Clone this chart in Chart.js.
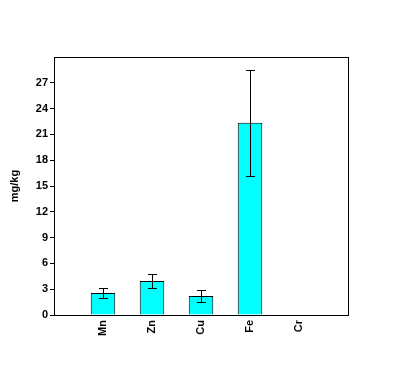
<!DOCTYPE html>
<html>
<head>
<meta charset="utf-8">
<script src="https://cdn.jsdelivr.net/npm/chart.js@4"></script>
<style>
  html, body { margin: 0; padding: 0; background: #fff; }
  #wrap { width: 403px; height: 372px; }
</style>
</head>
<body>
<div id="wrap"><canvas id="chart" width="403" height="372"></canvas></div>
<script>
const elements = ["Mn", "Zn", "Cu", "Fe", "Cr"];
const means = [2.56, 3.95, 2.21, 22.36, 0];
const errors = [0.58, 0.81, 0.75, 6.14, 0];
const yTicks = [0, 3, 6, 9, 12, 15, 18, 21, 24, 27];
const yMax = 30;

// empty slot at each end so the bars sit one category in from the frame
const labels = ["", ...elements, ""];
const values = [null, ...means, null];
const errs = [null, ...errors, null];

const FONT = "'Liberation Sans Narrow', 'Liberation Sans', Arial, sans-serif";

const framePlugin = {
  id: "frame",
  afterDatasetsDraw(chart) {
    const { ctx, chartArea, scales } = chart;
    const meta = chart.getDatasetMeta(0);

    ctx.save();
    ctx.strokeStyle = "#000";
    ctx.lineWidth = 1;

    // error bars
    errs.forEach((e, i) => {
      if (!e) return;
      const x = Math.round(meta.data[i].x) + 0.5;
      const top = Math.round(scales.y.getPixelForValue(values[i] + e)) + 0.5;
      const bot = Math.round(scales.y.getPixelForValue(values[i] - e)) + 0.5;
      ctx.beginPath();
      ctx.moveTo(x, top);
      ctx.lineTo(x, bot);
      ctx.moveTo(x - 4.5, top);
      ctx.lineTo(x + 4.5, top);
      ctx.moveTo(x - 4.5, bot);
      ctx.lineTo(x + 4.5, bot);
      ctx.stroke();
    });

    // box around the plot
    ctx.strokeRect(
      Math.round(chartArea.left) + 0.5,
      Math.round(chartArea.top) + 0.5,
      Math.round(chartArea.right - chartArea.left),
      Math.round(chartArea.bottom - chartArea.top)
    );
    ctx.restore();
  },
};

new Chart(document.getElementById("chart"), {
  type: "bar",
  data: {
    labels: labels,
    datasets: [
      {
        data: values,
        backgroundColor: "#00ffff",
        borderColor: "#000",
        borderWidth: 1,
        categoryPercentage: 1,
        barPercentage: 0.5,
      },
    ],
  },
  options: {
    responsive: false,
    animation: false,
    devicePixelRatio: 1,
    layout: { padding: { top: 57, right: 55, left: 0, bottom: 0 } },
    plugins: {
      legend: { display: false },
      tooltip: { enabled: false },
    },
    scales: {
      x: {
        offset: false,
        grid: { display: false },
        border: { display: false },
        ticks: {
          color: "#000",
          minRotation: 90,
          maxRotation: 90,
          padding: -3,
          font: { family: FONT, size: 11, weight: "bold" },
        },
        afterFit(scale) {
          scale.height = 57;
        },
      },
      y: {
        min: 0,
        max: yMax,
        grid: {
          drawOnChartArea: false,
          color: "#000",
          tickLength: 4,
        },
        border: { display: false },
        ticks: {
          color: "#000",
          stepSize: 3,
          padding: 2,
          font: { family: FONT, size: 11, weight: "bold" },
        },
        afterBuildTicks(scale) {
          scale.ticks = yTicks.map((v) => ({ value: v }));
        },
        title: {
          display: true,
          text: "mg/kg",
          color: "#000",
          padding: { top: 8, bottom: 0 },
          font: { family: FONT, size: 11, weight: "bold" },
        },
        afterFit(scale) {
          scale.width = 54;
        },
      },
    },
  },
  plugins: [framePlugin],
});
</script>
</body>
</html>
